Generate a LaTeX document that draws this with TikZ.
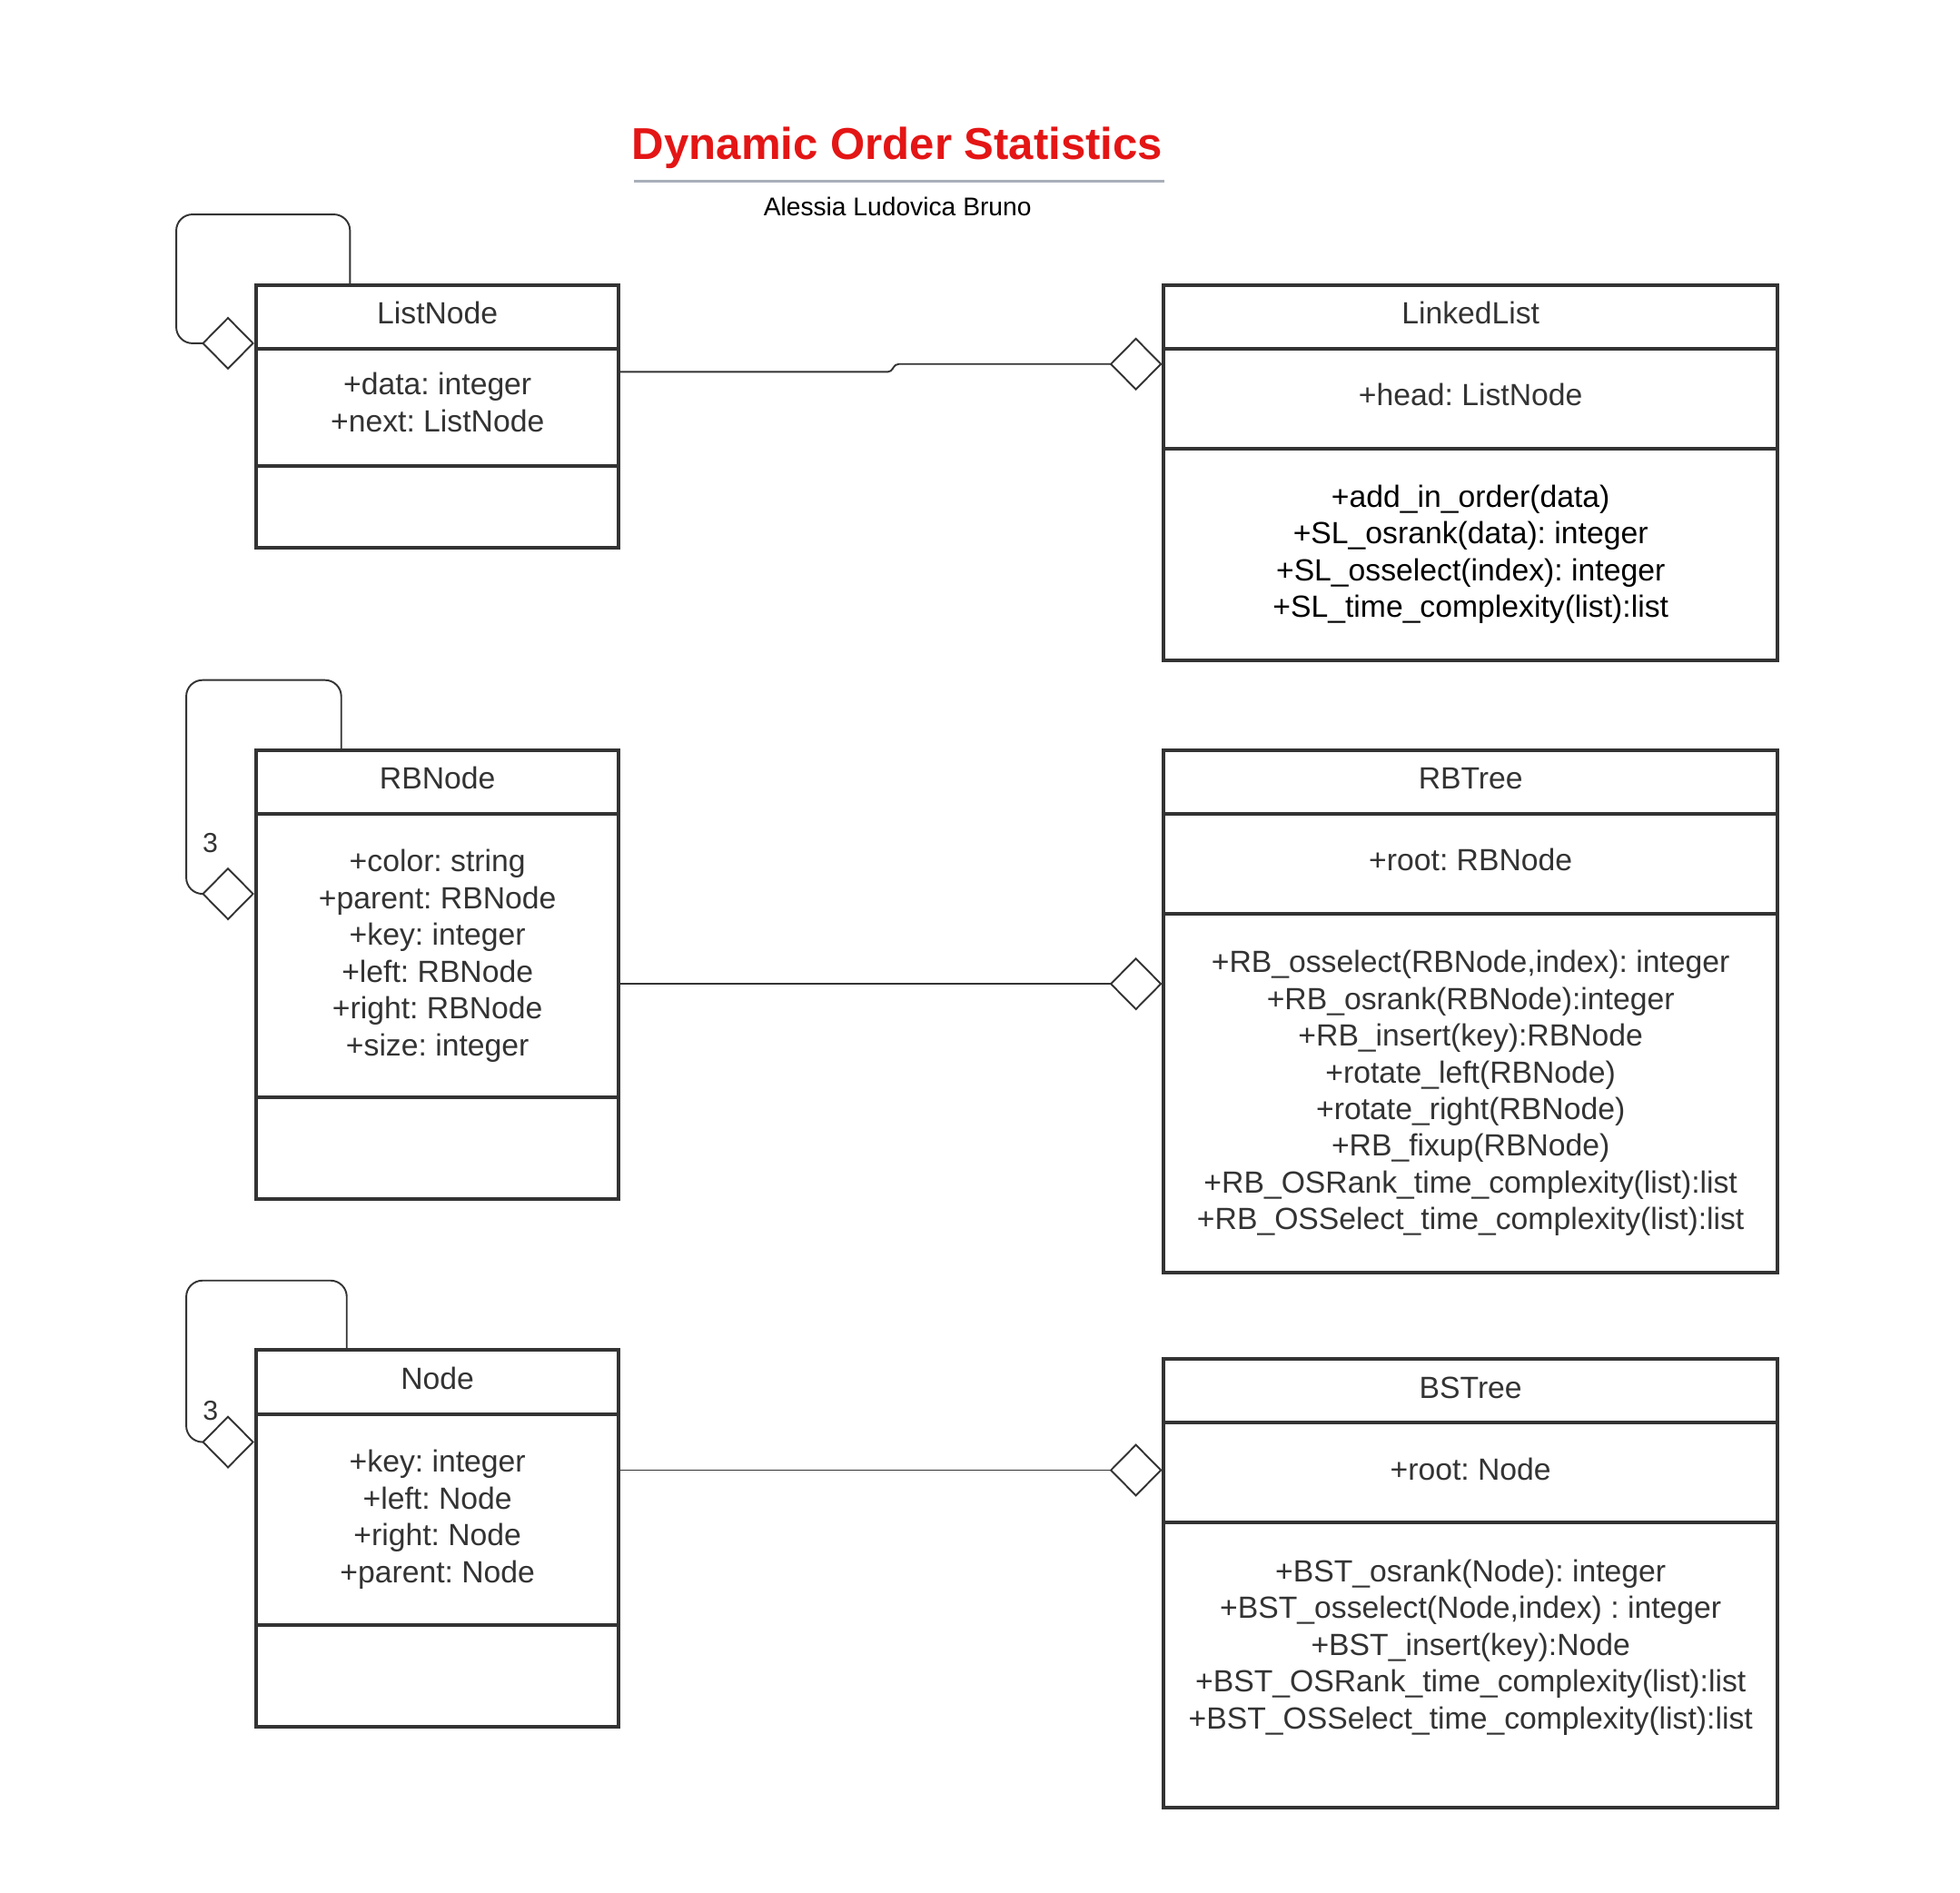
\documentclass[tikz,border=0pt]{standalone}
\usepackage{fontspec}
\setmainfont{Liberation Sans}
\frenchspacing
\usetikzlibrary{shapes.geometric,calc,positioning}

\definecolor{umlgray}{HTML}{333333}
\definecolor{titlered}{HTML}{E41515}
\definecolor{rulegray}{HTML}{A9AFB9}

\tikzset{
  cls/.style={draw=umlgray, line width=3pt, minimum width=290pt, inner sep=0pt,
    outer sep=0pt, align=center, text=umlgray, font=\fontsize{24.5}{29.4}\selectfont},
  widecls/.style={cls, minimum width=491pt},
  oneline/.style={text height=18pt, text depth=6.5pt},
  agg/.style={diamond, draw=umlgray, line width=1.4pt, fill=white, minimum width=40pt,
    minimum height=40.5pt, inner sep=0pt, outer sep=0pt},
  assoc/.style={draw=umlgray, line width=1.4pt},
  mult/.style={text=umlgray, inner sep=0pt, font=\fontsize{22}{26}\selectfont}
}

\begin{document}
\begin{tikzpicture}[x=1pt,y=-1pt]
  \useasboundingbox (0,0) rectangle (1568,1513.5);

  \node[anchor=base, text=titlered, font=\fontsize{35.7}{40}\selectfont\bfseries] (title) at (718,127.2) {Dynamic Order Statistics};
  \draw[rulegray, line width=2.5pt] (507.5,145) -- (931.5,145);
  \node[anchor=base, font=\fontsize{20.5}{24}\selectfont] (author) at (718,172.7) {Alessia Ludovica Bruno};

  \node[cls, oneline, minimum height=51pt] (ln) at (350,253.5) {ListNode};
  \node[cls, minimum height=94pt, below=0pt of ln] (lnA) {+data: integer\\+next: ListNode\\[-21pt]\mbox{}};
  \node[cls, minimum height=65pt, below=0pt of lnA] (lnO) {};

  \node[widecls, oneline, minimum height=51pt] (ll) at (1176.5,253.5) {LinkedList};
  \node[widecls, oneline, minimum height=80pt, below=0pt of ll] (llA) {+head: ListNode};
  \node[widecls, text=black, minimum height=169pt, below=0pt of llA] (llO) {+add\_in\_order(data)\\+SL\_osrank(data): integer\\+SL\_osselect(index): integer\\+SL\_time\_complexity(list):list};

  \node[cls, oneline, minimum height=51pt] (rn) at (350,625.5) {RBNode};
  \node[cls, minimum height=227pt, below=0pt of rn] (rnA) {+color: string\\+parent: RBNode\\+key: integer\\+left: RBNode\\+right: RBNode\\+size: integer};
  \node[cls, minimum height=81pt, below=0pt of rnA] (rnO) {};

  \node[widecls, oneline, minimum height=51pt] (rt) at (1176.5,625.5) {RBTree};
  \node[widecls, oneline, minimum height=80pt, below=0pt of rt] (rtA) {+root: RBNode};
  \node[widecls, minimum height=287pt, below=0pt of rtA] (rtO) {+RB\_osselect(RBNode,index): integer\\+RB\_osrank(RBNode):integer\\+RB\_insert(key):RBNode\\+rotate\_left(RBNode)\\+rotate\_right(RBNode)\\+RB\_fixup(RBNode)\\+RB\_OSRank\_time\_complexity(list):list\\+RB\_OSSelect\_time\_complexity(list):list};

  \node[cls, oneline, minimum height=51pt] (nd) at (350,1105.5) {Node};
  \node[cls, minimum height=169pt, below=0pt of nd] (ndA) {+key: integer\\+left: Node\\+right: Node\\+parent: Node};
  \node[cls, minimum height=81pt, below=0pt of ndA] (ndO) {};

  \node[widecls, oneline, minimum height=51pt] (bt) at (1176.5,1112.5) {BSTree};
  \node[widecls, oneline, minimum height=80pt, below=0pt of bt] (btA) {+root: Node};
  \node[widecls, minimum height=228pt, below=0pt of btA] (btO) {+BST\_osrank(Node): integer\\+BST\_osselect(Node,index) : integer\\+BST\_insert(key):Node\\+BST\_OSRank\_time\_complexity(list):list\\+BST\_OSSelect\_time\_complexity(list):list\\[-25pt]\mbox{}\\\mbox{}};

  \node[agg] (dLL) at (908.7,291.2) {};
  \node[agg] (dRT) at (908.7,787) {};
  \node[agg] (dBT) at (908.7,1176) {};
  \node[agg] (dLN) at (182.4,274.6) {};
  \node[agg] (dRN) at (182.4,715) {};
  \node[agg] (dND) at (182.4,1153.5) {};

  \draw[assoc, rounded corners=3pt] ($(lnA.north east)+(0,18.5)$) -- (713,297.5) -- (716,291.2) -- (dLL.west);
  \draw[assoc] (rnA.east |- dRT) -- (dRT.west);
  \draw[assoc] (ndA.east |- dBT) -- (dBT.west);

  \draw[assoc, rounded corners=13pt] ($(ln.north west)+(75,0)$) |- (141,171.5) |- (dLN.west);
  \draw[assoc, rounded corners=13pt] ($(rn.north west)+(68,0)$) |- (149,544) |- (dRN.west);
  \draw[assoc, rounded corners=13pt] ($(nd.north west)+(72.4,0)$) |- (149,1024.3) |- (dND.west);

  \node[mult] (mRN) at (168.3,674) {3};
  \node[mult] (mND) at (168.4,1128.8) {3};
\end{tikzpicture}
\end{document}
